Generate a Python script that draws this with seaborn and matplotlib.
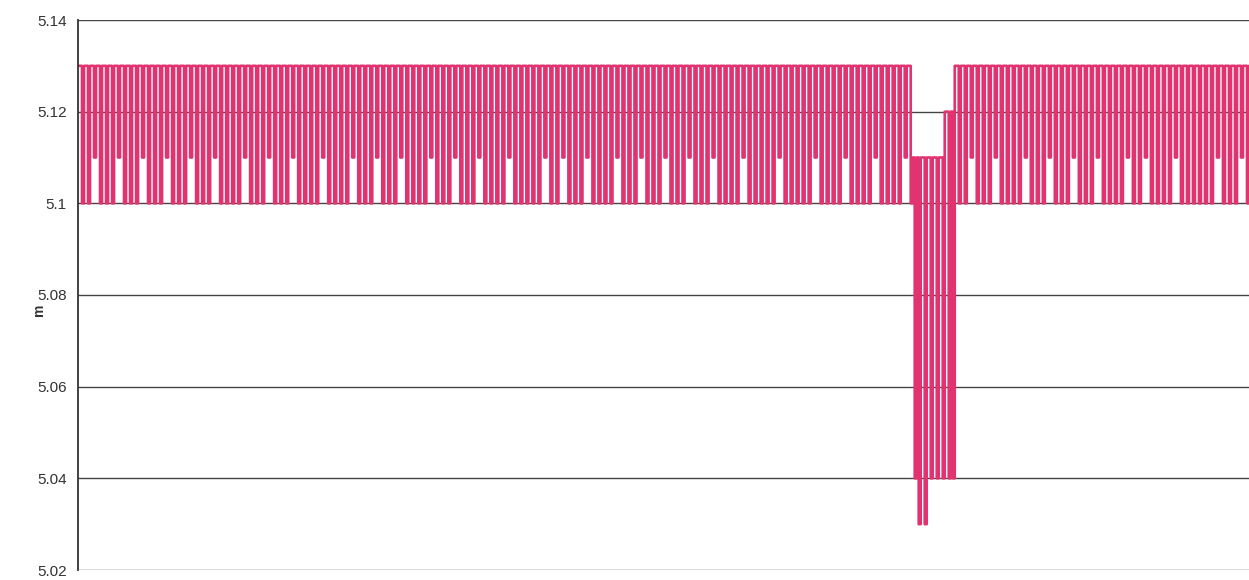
import numpy as np
import pandas as pd
import matplotlib
matplotlib.use("Agg")
import matplotlib.pyplot as plt
import seaborn as sns

# Readings in hundredths of a metre above 5.10 m (one digit per sample)
before_dip = (
    "330330331330330330331330330330"
    "331330330330331330330330331330"
    "330330331330330330330331330330"
    "330331330330330331330330330330"
    "331330330330330331330330330331"
    "330330330331330330330330331330"
    "330330331330330330331330330330"
    "330331330330330330330331330330"
    "331330330330331330330330330331"
    "330330330331330330330331330330"
    "330331330330330331330330330330"
    "331330330330330330331330330330"
    "330330331330330330330331330330"
    "330330331330330330330331330"
)
dip_values = [5.11, 5.04, 5.11, 5.03, 5.11, 5.11, 5.03,
              5.11, 5.11, 5.04, 5.11, 5.11, 5.04, 5.11,
              5.11, 5.04, 5.12, 5.12, 5.04, 5.12, 5.04]
after_dip = (
    "330330331330330330331330330330"
    "330331330330330331330330330331"
    "330330330331330330330330331330"
    "330331330330330330331330330330"
    "330330330331330330330331330"
    "3"
)
y_ticks = [5.02, 5.04, 5.06, 5.08, 5.10, 5.12, 5.14]
y_tick_labels = ["5.02", "5.04", "5.06", "5.08", "5.1", "5.12", "5.14"]
y_label = "m"

values = ([5.10 + int(c) / 100 for c in before_dip] + dip_values +
          [5.10 + int(c) / 100 for c in after_dip])
df = pd.DataFrame({"sample": np.arange(len(values)), "level": values})

sns.set_style("white")
plt.rcParams["font.family"] = ["Liberation Sans", "DejaVu Sans"]

fig = plt.figure(figsize=(12.49, 5.80), dpi=100)
ax = fig.add_axes([78 / 1249, 10 / 580, 1171 / 1249, 550 / 580])

sns.lineplot(data=df, x="sample", y="level", ax=ax, color="#E0336F",
             linewidth=1.9, estimator=None, sort=False,
             drawstyle="steps-post")

ax.set_ylim(5.02, 5.14)
ax.set_xlim(0, len(values) - 1)
ax.set_yticks(y_ticks)
ax.set_yticklabels(y_tick_labels, fontsize=11, color="#333333")
ax.set_xticks([])
ax.set_xlabel("")
ax.set_ylabel(y_label, fontsize=10, fontweight="bold", color="#333333")
ax.yaxis.set_label_coords(-0.027, 0.473)

ax.yaxis.grid(True, color="#444444", linewidth=1.0)
ax.set_axisbelow(True)
for s in ["top", "right", "bottom"]:
    ax.spines[s].set_visible(False)
ax.spines["left"].set_color("#333333")
ax.spines["left"].set_linewidth(1.3)
ax.tick_params(axis="y", direction="out", length=5, width=1, color="#333333", pad=3)

fig.savefig("out.png", dpi=100)
